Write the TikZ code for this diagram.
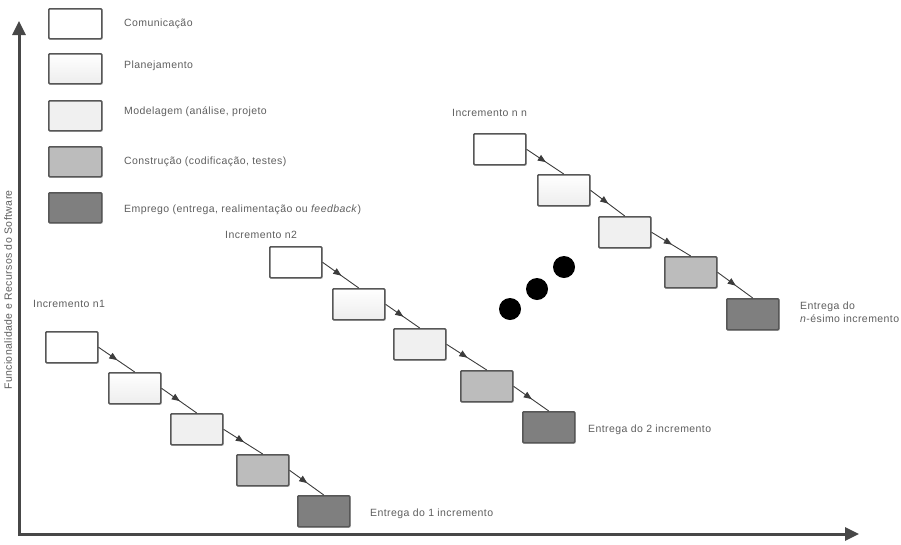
\documentclass[tikz,border=0pt]{standalone}
\usepackage{fontspec}
\setmainfont{Liberation Sans}
\newfontfamily\lblfont[LetterSpace=4]{Liberation Sans}
\usetikzlibrary{arrows.meta,shadows,decorations.markings}

\definecolor{edge}{HTML}{575757}
\definecolor{axiscol}{HTML}{474747}
\definecolor{flowcol}{HTML}{3C3C3C}
\definecolor{txt}{HTML}{5E5E5E}
\definecolor{plafill}{HTML}{EDEDED}
\definecolor{modfill}{HTML}{F0F0F0}
\definecolor{cnsfill}{HTML}{BCBCBC}
\definecolor{empfill}{HTML}{7F7F7F}

\begin{document}
\begin{tikzpicture}[x=1pt,y=-1pt,
  stage/.style={draw=edge, line width=1.5pt, rounded corners=1pt,
    minimum width=52pt, minimum height=31pt, anchor=north west, inner sep=0pt,
    drop shadow={shadow xshift=1.2pt, shadow yshift=-1.2pt, opacity=0.25}},
  com/.style={stage, fill=white},
  pla/.style={stage, top color=white, bottom color=plafill},
  mdl/.style={stage, fill=modfill},
  cns/.style={stage, fill=cnsfill},
  emp/.style={stage, fill=empfill},
  lbl/.style={font=\lblfont\fontsize{10.5}{13}\selectfont, text=txt, inner sep=0pt, anchor=west},
  flow/.style={draw=flowcol, line width=0.9pt, postaction={decorate},
    decoration={markings, mark=at position 0.52 with {\arrow{Triangle[length=8pt,width=6.5pt]}}}},
  axis/.style={line width=3pt, draw=axiscol,
    {Triangle[length=14pt,width=13pt]}-{Triangle[length=14pt,width=13pt]}},
  dot/.style={circle, fill=black, minimum size=22pt, inner sep=0pt}
]
\useasboundingbox (0,0) rectangle (901,544);

% axes
\coordinate (orig) at (19,534);
\coordinate (ytip) at (19,21);
\coordinate (xtip) at (859,534);
\draw[axis] (ytip) -- (orig) -- (xtip);
\node[lbl, anchor=center, rotate=90] (ylabel) at (8,290) {Funcionalidade e Recursos do Software};

% legend
\node[com, minimum width=53pt, minimum height=30pt] (k1) at (48,8) {};
\node[pla, minimum width=53pt, minimum height=30pt] (k2) at (48,53) {};
\node[mdl, minimum width=53pt, minimum height=30pt] (k3) at (48,100) {};
\node[cns, minimum width=53pt, minimum height=30pt] (k4) at (48,146) {};
\node[emp, minimum width=53pt, minimum height=30pt] (k5) at (48,192) {};
\node[lbl] (t1) at (124,24) {Comunicação};
\node[lbl] (t2) at (124,66) {Planejamento};
\node[lbl] (t3) at (124,112) {Modelagem (análise, projeto};
\node[lbl] (t4) at (124,162) {Construção (codificação, testes)};
\node[lbl] (t5) at (124,210) {Emprego (entrega, realimentação ou \textit{feedback})};

% increment 1
\node[lbl] (h1) at (33,304) {Incremento n1};
\node[com] (a1) at (45,331) {};
\node[pla] (a2) at (108,372) {};
\node[mdl] (a3) at (170,413) {};
\node[cns] (a4) at (236,454) {};
\node[emp] (a5) at (297,495) {};
\node[lbl] (e1) at (370,514) {Entrega do 1 incremento};
\draw[flow] (a1.east) -- (a2.north);
\draw[flow] (a2.east) -- (a3.north);
\draw[flow] (a3.east) -- (a4.north);
\draw[flow] (a4.east) -- (a5.north);

% increment 2
\node[lbl] (h2) at (225,235) {Incremento n2};
\node[com] (b1) at (269,246) {};
\node[pla] (b2) at (332,288) {};
\node[mdl] (b3) at (393,328) {};
\node[cns] (b4) at (460,370) {};
\node[emp] (b5) at (522,411) {};
\node[lbl] (e2) at (588,430) {Entrega do 2 incremento};
\draw[flow] (b1.east) -- (b2.north);
\draw[flow] (b2.east) -- (b3.north);
\draw[flow] (b3.east) -- (b4.north);
\draw[flow] (b4.east) -- (b5.north);

% ellipsis between increments
\node[dot] (d1) at (510,309) {};
\node[dot] (d2) at (537,289) {};
\node[dot] (d3) at (564,267) {};

% increment n
\node[lbl] (hn) at (452,113) {Incremento n n};
\node[com] (c1) at (473,133) {};
\node[pla] (c2) at (537,174) {};
\node[mdl] (c3) at (598,216) {};
\node[cns] (c4) at (664,256) {};
\node[emp] (c5) at (726,298) {};
\node[lbl, align=left] (en) at (800,312) {Entrega do\\\textit{n}-ésimo incremento};
\draw[flow] (c1.east) -- (c2.north);
\draw[flow] (c2.east) -- (c3.north);
\draw[flow] (c3.east) -- (c4.north);
\draw[flow] (c4.east) -- (c5.north);
\end{tikzpicture}
\end{document}
